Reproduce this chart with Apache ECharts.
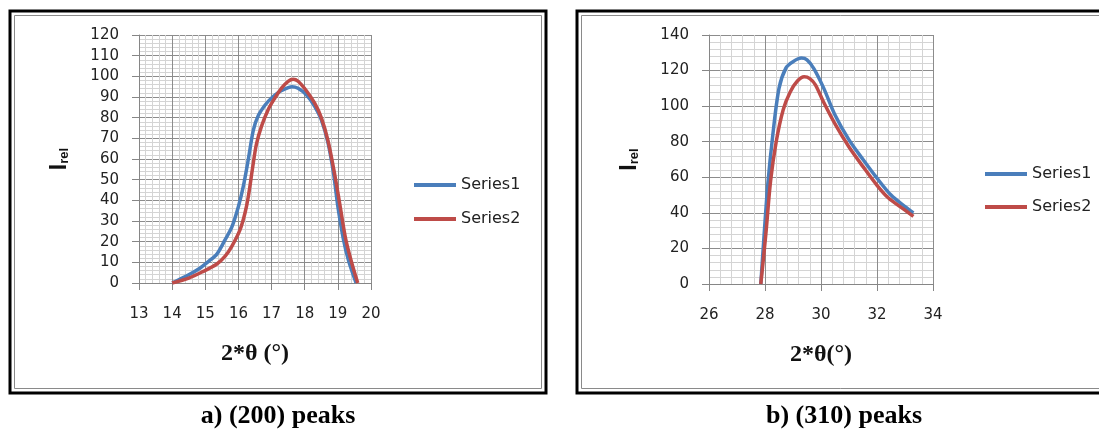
<!DOCTYPE html>
<html>
<head>
<meta charset="utf-8">
<script src="https://cdn.jsdelivr.net/npm/echarts@6/dist/echarts.min.js"></script>
<style>
html,body{margin:0;padding:0;background:#fff;}
#chart{width:1099px;height:432px;}
</style>
</head>
<body>
<div id="chart"></div>
<script>
// ---- data: (200) peaks ----
var aX1 = [14.0, 14.5, 14.8, 15.1, 15.35, 15.6, 15.8, 16.0, 16.15, 16.3, 16.45, 16.6, 16.8, 17.0, 17.25, 17.5, 17.62, 17.8, 18.05, 18.3, 18.5, 18.7, 18.87, 19.0, 19.17, 19.32, 19.55];
var aY1 = [0, 4, 6.8, 10.5, 14, 21, 27, 37, 47, 60, 74, 81, 86, 89.5, 92.7, 94.5, 95, 94.2, 91, 85.5, 79, 68, 53, 37, 21, 11, 0];
var aX2 = [14.0, 14.5, 14.9, 15.35, 15.6, 15.8, 16.05, 16.2, 16.3, 16.43, 16.54, 16.7, 16.9, 17.1, 17.3, 17.5, 17.65, 17.8, 18.05, 18.3, 18.5, 18.7, 18.9, 19.07, 19.24, 19.42, 19.6];
var aY2 = [0, 2.4, 5.3, 9.2, 13, 17.7, 25.8, 34, 42, 56, 67, 76, 84, 89.5, 94.3, 97.6, 98.6, 97.6, 93, 87, 80, 69, 53, 37, 21, 9.7, 0];
// ---- data: (310) peaks ----
var bX1 = [27.85, 27.97, 28.1, 28.28, 28.5, 28.75, 29.0, 29.3, 29.5, 29.75, 30.1, 30.5, 31.0, 31.5, 32.0, 32.5, 33.0, 33.3];
var bY1 = [0, 28, 56, 84, 110, 121.5, 125, 127, 126, 121, 110, 95, 81, 70, 59.5, 50, 43.5, 40];
var bX2 = [27.85, 28.03, 28.2, 28.4, 28.65, 28.9, 29.15, 29.4, 29.6, 29.8, 30.1, 30.5, 31.0, 31.5, 32.0, 32.4, 33.0, 33.3];
var bY2 = [0, 28, 58, 80, 98, 108, 114, 116.5, 115.5, 112, 102, 90, 77, 66, 55.5, 48.5, 41.5, 38];
var seriesNames = ['Series1', 'Series2'];
var captions = ['a) (200) peaks', 'b) (310) peaks'];
var xTitles = ['2*\u03b8 (\u00b0)', '2*\u03b8(\u00b0)'];

function pairs(xs, ys) { return xs.map(function (x, i) { return [x, ys[i]]; }); }

var BLUE = '#4a7ebb', RED = '#be4b48';
var labelFont = { fontFamily: 'DejaVu Sans', fontSize: 15, color: '#222' };

function xAxisCfg(idx, min, max, interval, title) {
  return {
    type: 'value', gridIndex: idx, min: min, max: max, interval: interval,
    name: title, nameLocation: 'middle', nameGap: 59,
    nameTextStyle: { fontFamily: 'Liberation Serif', fontWeight: 'bold', fontSize: 24, color: '#111' },
    axisLine: { show: true, lineStyle: { color: '#868686', width: 1 } },
    axisTick: { show: true, inside: false, length: 7, lineStyle: { color: '#868686' } },
    axisLabel: Object.assign({ margin: 24 }, labelFont),
    splitLine: { show: true, lineStyle: { color: '#8c8c8c', width: 1 } },
    minorTick: { show: false, splitNumber: 5 },
    minorSplitLine: { show: true, lineStyle: { color: '#d4d4d4', width: 1 } }
  };
}
function yAxisCfg(idx, min, max, interval) {
  return {
    type: 'value', gridIndex: idx, min: min, max: max, interval: interval,
    name: '{i|I}{s|rel}', nameLocation: 'middle', nameGap: 68,
    nameTextStyle: {
      rich: {
        i: { fontFamily: 'Liberation Sans', fontWeight: 'bold', fontSize: 23, color: '#111' },
        s: { fontFamily: 'Liberation Sans', fontWeight: 'bold', fontSize: 13, color: '#111', verticalAlign: 'bottom', padding: [9, 0, 0, 0] }
      }
    },
    axisLine: { show: true, lineStyle: { color: '#868686', width: 1 } },
    axisTick: { show: true, inside: false, length: 7, lineStyle: { color: '#868686' } },
    axisLabel: Object.assign({ margin: 20 }, labelFont),
    splitLine: { show: true, lineStyle: { color: '#8c8c8c', width: 1 } },
    minorTick: { show: false, splitNumber: 5 },
    minorSplitLine: { show: true, lineStyle: { color: '#d4d4d4', width: 1 } }
  };
}
function lineSeries(name, data, color, idx) {
  return {
    type: 'line', name: name, data: data, xAxisIndex: idx, yAxisIndex: idx,
    showSymbol: false, symbol: 'none', smooth: 0.3,
    lineStyle: { color: color, width: 3.5 }, itemStyle: { color: color },
    z: name === 'Series2' ? 3 : 2
  };
}
function legendCfg(left, top, gap) {
  return {
    data: seriesNames, orient: 'vertical', left: left, top: top, itemGap: gap,
    padding: 0, icon: 'rect', itemWidth: 42, itemHeight: 4,
    textStyle: { fontFamily: 'DejaVu Sans', fontSize: 16, color: '#222', lineHeight: 20 },
    selectedMode: false
  };
}

var chart = echarts.init(document.getElementById('chart'), null, { renderer: 'canvas' });
var capStyle = { fontFamily: 'Liberation Serif', fontWeight: 'bold', fontSize: 26, color: '#000' };
chart.setOption({
  animation: false,
  backgroundColor: '#fff',
  grid: [
    { left: 139, top: 35, width: 232, height: 248 },
    { left: 709, top: 35, width: 224, height: 249 }
  ],
  xAxis: [xAxisCfg(0, 13, 20, 1, xTitles[0]), xAxisCfg(1, 26, 34, 2, xTitles[1])],
  yAxis: [yAxisCfg(0, 0, 120, 10), yAxisCfg(1, 0, 140, 20)],
  legend: [legendCfg(414, 175, 14), legendCfg(985, 164, 13)],
  series: [
    lineSeries(seriesNames[0], pairs(aX1, aY1), BLUE, 0),
    lineSeries(seriesNames[1], pairs(aX2, aY2), RED, 0),
    lineSeries(seriesNames[0], pairs(bX1, bY1), BLUE, 1),
    lineSeries(seriesNames[1], pairs(bX2, bY2), RED, 1)
  ],
  title: [
    { text: captions[0], left: 278, top: 403, textAlign: 'center', padding: 0, textStyle: capStyle },
    { text: captions[1], left: 844, top: 403, textAlign: 'center', padding: 0, textStyle: capStyle }
  ],
  graphic: [
    { type: 'rect', shape: { x: 10, y: 11, width: 536, height: 382 }, style: { fill: 'none', stroke: '#000', lineWidth: 3 }, silent: true },
    { type: 'rect', shape: { x: 14.5, y: 15.5, width: 527, height: 373 }, style: { fill: 'none', stroke: '#8a8a8a', lineWidth: 1 }, silent: true },
    { type: 'rect', shape: { x: 577, y: 11, width: 600, height: 382 }, style: { fill: 'none', stroke: '#000', lineWidth: 3 }, silent: true },
    { type: 'rect', shape: { x: 581.5, y: 15.5, width: 600, height: 373 }, style: { fill: 'none', stroke: '#8a8a8a', lineWidth: 1 }, silent: true }
  ]
});
</script>
</body>
</html>
